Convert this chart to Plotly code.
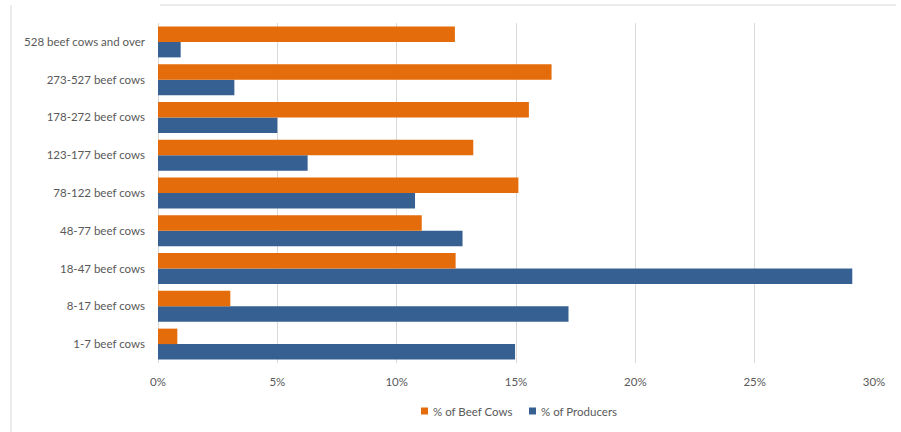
import plotly.graph_objects as go

# Herd-size categories, listed bottom to top
categories = [
    "1-7 beef cows",
    "8-17 beef cows",
    "18-47 beef cows",
    "48-77 beef cows",
    "78-122 beef cows",
    "123-177 beef cows",
    "178-272 beef cows",
    "273-527 beef cows",
    "528 beef cows and over",
]

# Shares (fractions) for each category
pct_beef_cows = [0.0081, 0.0303, 0.1247, 0.1105, 0.1510, 0.1321, 0.1554, 0.1649, 0.1244]
pct_producers = [0.1496, 0.1720, 0.2909, 0.1276, 0.1077, 0.0627, 0.0500, 0.0320, 0.0095]

x_ticks = [0, 0.05, 0.10, 0.15, 0.20, 0.25, 0.30]

series_names = ["% of Beef Cows", "% of Producers"]

ORANGE = "#E46C0A"
BLUE = "#376092"
TEXT = "#595959"
GRID = "#D9D9D9"
FONT = "Lato"

fig = go.Figure()

# Producers first so it sits below the beef-cow bar within each group
fig.add_trace(go.Bar(
    y=categories, x=pct_producers, orientation="h",
    name=series_names[1], marker=dict(color=BLUE, line=dict(width=0)),
    showlegend=False,
))
fig.add_trace(go.Bar(
    y=categories, x=pct_beef_cows, orientation="h",
    name=series_names[0], marker=dict(color=ORANGE, line=dict(width=0)),
    showlegend=False,
))

W, H = 901, 432
ML, MR, MT, MB = 158, 27, 23, 69
pw, ph = W - ML - MR, H - MT - MB

def px_x(p):
    return (p - ML) / pw

def px_y(p):
    return (H - MB - p) / ph

# Compact legend below the plot: swatch squares plus labels
legend_y = 411
legend_items = [(421, ORANGE, series_names[0]), (529, BLUE, series_names[1])]
shapes = []
annotations = []
for x0, color, label in legend_items:
    shapes.append(dict(
        type="rect", xref="paper", yref="paper",
        x0=px_x(x0), x1=px_x(x0 + 7),
        y0=px_y(legend_y - 3.5), y1=px_y(legend_y + 3.5),
        fillcolor=color, line=dict(width=0),
    ))
    annotations.append(dict(
        xref="paper", yref="paper", x=px_x(x0 + 10), y=px_y(legend_y),
        xanchor="left", yanchor="middle", showarrow=False,
        text=label, font=dict(family=FONT, size=11.5, color=TEXT),
    ))

# Chart frame edges
shapes += [
    dict(type="line", xref="paper", yref="paper",
         x0=px_x(11), x1=px_x(11), y0=px_y(5), y1=px_y(432),
         line=dict(color=GRID, width=1)),
    dict(type="line", xref="paper", yref="paper",
         x0=px_x(160), x1=px_x(896), y0=px_y(5), y1=px_y(5),
         line=dict(color=GRID, width=1)),
]

fig.update_layout(
    width=W, height=H,
    margin=dict(l=ML, r=MR, t=MT, b=MB),
    paper_bgcolor="white", plot_bgcolor="white",
    barmode="group", bargap=0.18, bargroupgap=0,
    font=dict(family=FONT, size=11.5, color=TEXT),
    showlegend=False,
    xaxis=dict(
        range=[0, 0.30], tickvals=x_ticks, tickformat=".0%",
        showgrid=True, gridcolor=GRID, gridwidth=1,
        zeroline=True, zerolinecolor=GRID, zerolinewidth=1,
        showline=False, ticks="", ticklabelstandoff=10,
        fixedrange=True,
    ),
    yaxis=dict(
        type="category", categoryorder="array", categoryarray=categories,
        showgrid=False, zeroline=False, showline=False,
        ticks="", ticklabelstandoff=12, fixedrange=True,
    ),
    shapes=shapes,
    annotations=annotations,
)

fig.write_html("out.html")
